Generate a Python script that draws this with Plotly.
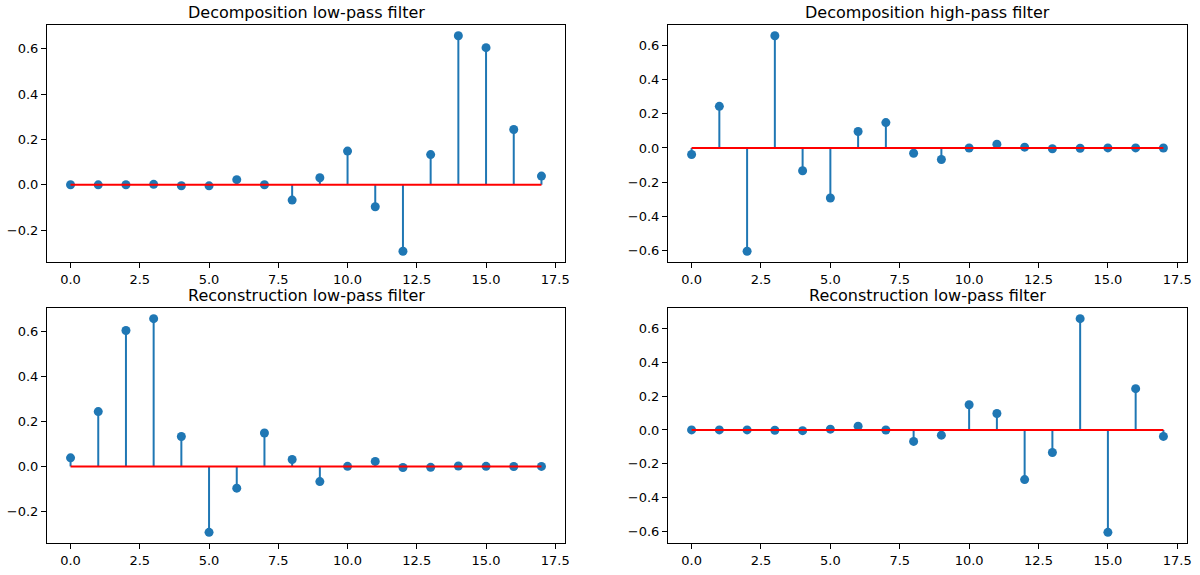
import plotly.graph_objects as go

idx = list(range(18))

dec_lo = [0.0000393473203163, -0.0002519631889427, 0.0002303857635232, 0.0018476468830563,
          -0.0042815036824635, -0.0047232047577518, 0.0223616621236798, 0.0002509471148340,
          -0.0676328290613279, 0.0307256814793385, 0.1485407493381256, -0.0968407832229492,
          -0.2932737832791663, 0.1331973858249883, 0.6572880780512736, 0.6048231236900955,
          0.2438346746125858, 0.0380779473638778]

dec_hi = [-0.0380779473638778, 0.2438346746125858, -0.6048231236900955, 0.6572880780512736,
          -0.1331973858249883, -0.2932737832791663, 0.0968407832229492, 0.1485407493381256,
          -0.0307256814793385, -0.0676328290613279, -0.0002509471148340, 0.0223616621236798,
          0.0047232047577518, -0.0042815036824635, -0.0018476468830563, 0.0002303857635232,
          0.0002519631889427, 0.0000393473203163]

rec_lo = [0.0380779473638778, 0.2438346746125858, 0.6048231236900955, 0.6572880780512736,
          0.1331973858249883, -0.2932737832791663, -0.0968407832229492, 0.1485407493381256,
          0.0307256814793385, -0.0676328290613279, 0.0002509471148340, 0.0223616621236798,
          -0.0047232047577518, -0.0042815036824635, 0.0018476468830563, 0.0002303857635232,
          -0.0002519631889427, 0.0000393473203163]

rec_hi = [0.0000393473203163, 0.0002519631889427, 0.0002303857635232, -0.0018476468830563,
          -0.0042815036824635, 0.0047232047577518, 0.0223616621236798, -0.0002509471148340,
          -0.0676328290613279, -0.0307256814793385, 0.1485407493381256, 0.0968407832229492,
          -0.2932737832791663, -0.1331973858249883, 0.6572880780512736, -0.6048231236900955,
          0.2438346746125858, -0.0380779473638778]

titles = ["Decomposition low-pass filter", "Decomposition high-pass filter",
          "Reconstruction low-pass filter", "Reconstruction low-pass filter"]
series = [dec_lo, dec_hi, rec_lo, rec_hi]

xticks = [0, 2.5, 5, 7.5, 10, 12.5, 15, 17.5]
xticklabels = ["0.0", "2.5", "5.0", "7.5", "10.0", "12.5", "15.0", "17.5"]

W, H = 1200, 575
# axes boxes in page pixels: (left, right, top, bottom)
boxes = [(47, 565, 25, 262), (668, 1187, 25, 262),
         (47, 565, 308, 543), (668, 1187, 308, 543)]

BLUE = "#1f77b4"
FONT = "DejaVu Sans"

fig = go.Figure()
annotations = []
for i, (vals, title, box) in enumerate(zip(series, titles, boxes)):
    n = i + 1
    xa = "x" if n == 1 else f"x{n}"
    ya = "y" if n == 1 else f"y{n}"
    sx, sy = [], []
    for xv, yv in zip(idx, vals):
        sx += [xv, xv, None]
        sy += [0, yv, None]
    fig.add_trace(go.Scatter(x=sx, y=sy, mode="lines", line=dict(color=BLUE, width=2),
                             xaxis=xa, yaxis=ya, showlegend=False, hoverinfo="skip"))
    fig.add_trace(go.Scatter(x=idx, y=vals, mode="markers",
                             marker=dict(color=BLUE, size=9, line=dict(width=0)),
                             xaxis=xa, yaxis=ya, showlegend=False))
    fig.add_trace(go.Scatter(x=[idx[0], idx[-1]], y=[0, 0], mode="lines",
                             line=dict(color="red", width=2),
                             xaxis=xa, yaxis=ya, showlegend=False, hoverinfo="skip"))
    ymin = min(min(vals), 0)
    ymax = max(max(vals), 0)
    m = 0.05 * (ymax - ymin)
    xm = 0.05 * (idx[-1] - idx[0])
    l, r, t, b = box
    axcommon = dict(showline=True, mirror=True, linecolor="black", linewidth=1,
                    ticks="outside", ticklen=5, tickwidth=1, tickcolor="black",
                    showgrid=False, zeroline=False, automargin=False,
                    tickfont=dict(family=FONT, size=13, color="black"))
    fig.layout[("xaxis" if n == 1 else f"xaxis{n}")] = dict(
        domain=[l / W, r / W], anchor=ya, range=[idx[0] - xm, idx[-1] + xm],
        tickmode="array", tickvals=xticks, ticktext=xticklabels, **axcommon)
    fig.layout[("yaxis" if n == 1 else f"yaxis{n}")] = dict(
        domain=[1 - b / H, 1 - t / H], anchor=xa, range=[ymin - m, ymax + m],
        dtick=0.2, tickformat=".1f", **axcommon)
    annotations.append(dict(text=title, x=(l + r) / 2 / W, y=1 - (t - 2) / H,
                            xref="paper", yref="paper", xanchor="center", yanchor="bottom",
                            borderpad=0,
                            showarrow=False, font=dict(family=FONT, size=16, color="black")))

fig.update_layout(width=W, height=H, margin=dict(l=0, r=0, t=0, b=0),
                  plot_bgcolor="white", paper_bgcolor="white",
                  annotations=annotations, font=dict(family=FONT))
fig.write_html("out.html", config={"displayModeBar": False},
               post_script="document.body.style.margin='0px';")
